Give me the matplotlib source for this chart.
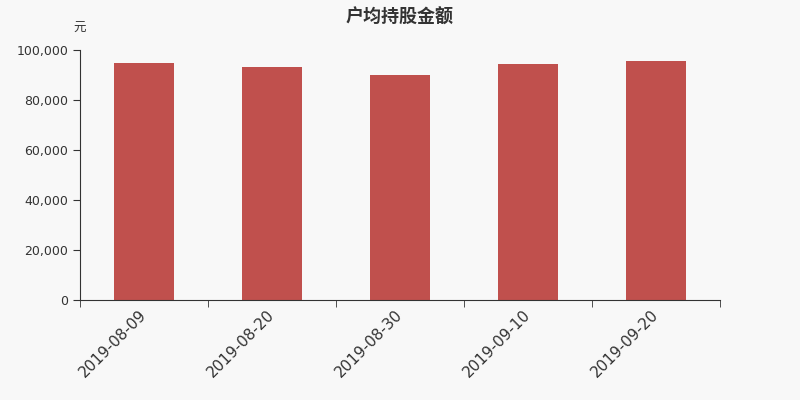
import numpy as np
import matplotlib.pyplot as plt
from matplotlib.ticker import FuncFormatter

plt.rcParams['font.family'] = ['DejaVu Sans', 'Noto Sans CJK SC']

dates = ['2019-08-09', '2019-08-20', '2019-08-30', '2019-09-10', '2019-09-20']
amounts = [94800, 93300, 90000, 94400, 95700]

bg = '#f8f8f8'
bar_color = '#c0504d'
axis_color = '#333333'

fig = plt.figure(figsize=(8, 4), dpi=100, facecolor=bg)
ax = fig.add_axes([0.1, 0.25, 0.8, 0.625], facecolor=bg)

x = np.arange(len(dates))
ax.bar(x, amounts, width=0.47, color=bar_color)

ax.set_xlim(-0.5, len(dates) - 0.5)
ax.set_ylim(0, 100000)
ax.set_yticks(np.arange(0, 100001, 20000))
ax.yaxis.set_major_formatter(FuncFormatter(lambda v, p: f'{int(v):,}'))

ax.set_xticks(x)
ax.set_xticklabels(dates, rotation=45, ha='right', va='center', rotation_mode='anchor',
                   fontsize=11, color=axis_color)
ax.set_xticks(np.arange(-0.5, len(dates), 1), minor=True)
ax.tick_params(axis='x', which='major', length=0, pad=9)
ax.tick_params(axis='x', which='minor', length=5, color=axis_color)
ax.tick_params(axis='y', length=5, color=axis_color, labelsize=9, labelcolor=axis_color)

for s in ['top', 'right']:
    ax.spines[s].set_visible(False)
for s in ['left', 'bottom']:
    ax.spines[s].set_color(axis_color)

ax.text(0.0, 1.06, '元', transform=ax.transAxes, fontsize=9,
        family=['Noto Sans CJK SC', 'DejaVu Sans'],
        color=axis_color, ha='center', va='bottom')
fig.text(0.5, 0.98, '户均持股金额', ha='center', va='top',
         family=['Noto Sans CJK SC', 'DejaVu Sans'],
         fontsize=13, fontweight='bold', color=axis_color)

fig.savefig('out.png', dpi=100, facecolor=bg)
